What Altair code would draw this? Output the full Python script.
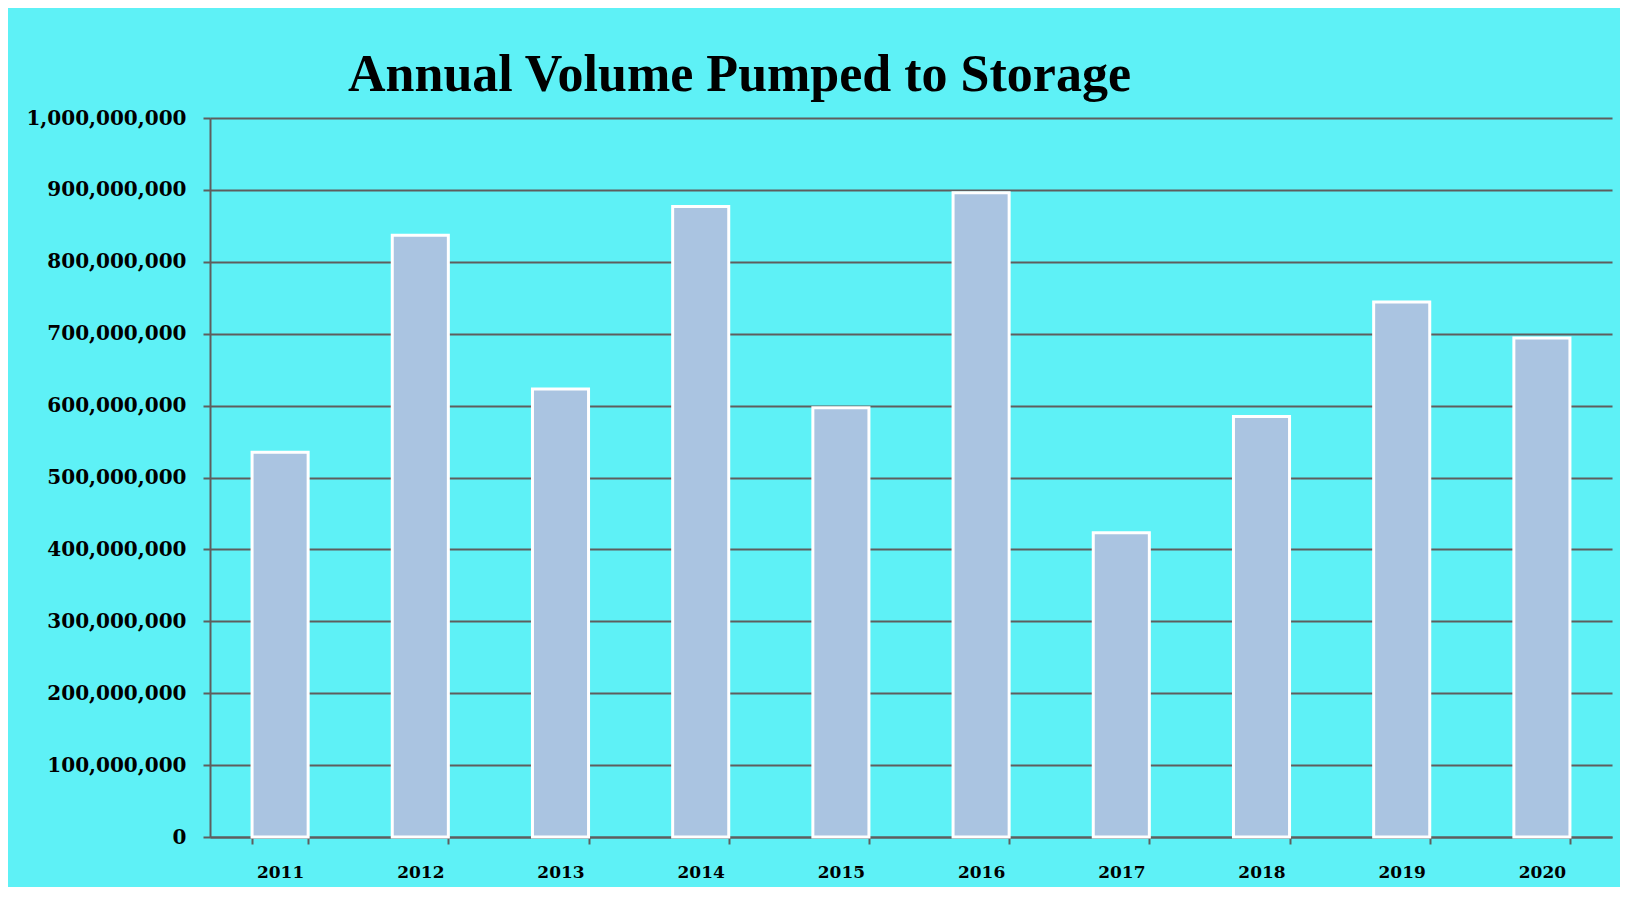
import altair as alt
import pandas as pd

years = ["2011", "2012", "2013", "2014", "2015", "2016", "2017", "2018", "2019", "2020"]
volumes = [535_000_000, 837_000_000, 623_000_000, 877_000_000, 597_000_000,
           896_000_000, 423_000_000, 585_000_000, 744_000_000, 694_000_000]
y_ticks = [0, 100_000_000, 200_000_000, 300_000_000, 400_000_000, 500_000_000,
           600_000_000, 700_000_000, 800_000_000, 900_000_000, 1_000_000_000]

df = pd.DataFrame({"year": years, "volume": volumes})

BG = "#5EF1F6"
GRID = "#5E5E5E"
LABEL_FONT = "DejaVu Serif"

chart = alt.Chart(df).mark_bar(
    color="#AAC4E1", stroke="white", strokeWidth=3
).encode(
    x=alt.X("year:N", sort=years, title=None,
            scale=alt.Scale(paddingInner=0.6, paddingOuter=0.3),
            axis=alt.Axis(labelAngle=0, tickBand="extent", ticks=True, tickSize=7,
                          tickColor=GRID, tickWidth=2, domainColor=GRID, domainWidth=2,
                          labelFont=LABEL_FONT, labelFontSize=17, labelFontWeight="bold",
                          labelColor="black", labelPadding=20, grid=False)),
    y=alt.Y("volume:Q", title=None,
            scale=alt.Scale(domain=[0, 1_000_000_000], nice=False),
            axis=alt.Axis(values=y_ticks, format=",d", tickSize=7, tickColor=GRID,
                          tickWidth=2, domainColor=GRID, domainWidth=2,
                          gridColor=GRID, gridWidth=2, gridOpacity=1,
                          labelFont=LABEL_FONT, labelFontSize=20, labelFontWeight="bold",
                          labelColor="black", labelPadding=17)),
).properties(
    width=1402, height=719,
    title=alt.TitleParams("Annual Volume Pumped to Storage", font="Liberation Serif",
                          fontSize=52, fontWeight="bold", color="black",
                          anchor="start", frame="group", dx=138, offset=-35,
                          baseline="alphabetic"),
    background=BG,
    autosize=alt.AutoSizeParams(type="none"),
    padding={"left": 202, "top": 110, "right": 8, "bottom": 50},
).configure_view(stroke=None)

chart.save("out.html", embed_options={"renderer": "svg", "actions": False})
